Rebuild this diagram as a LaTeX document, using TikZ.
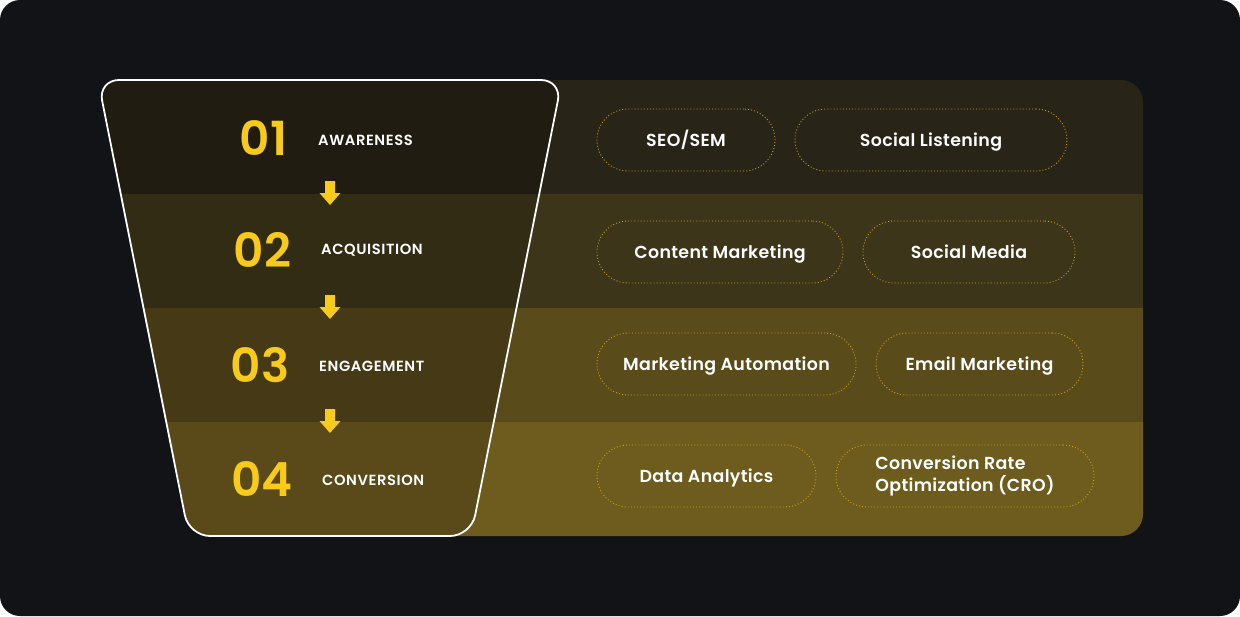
\documentclass[tikz,border=0pt]{standalone}
\usepackage{fontspec}
\setmainfont{Poppins}
\newfontfamily\pmed{Poppins SemiBold}[LetterSpace=2]
\newfontfamily\psemi{Poppins SemiBold}[LetterSpace=4]
\newfontfamily\pnum{Poppins SemiBold}
\definecolor{canvas}{HTML}{121316}
\definecolor{bandA}{HTML}{282418}
\definecolor{bandB}{HTML}{3D3519}
\definecolor{bandC}{HTML}{5A4B1A}
\definecolor{bandD}{HTML}{6D5C1D}
\definecolor{funA}{HTML}{201C12}
\definecolor{funB}{HTML}{332C14}
\definecolor{funC}{HTML}{463A16}
\definecolor{funD}{HTML}{5A4A19}
\definecolor{gold}{HTML}{F8CB1B}
\definecolor{dotgold}{HTML}{CDA51A}
\tikzset{
  stepnum/.style={text=gold, font=\pnum\fontsize{47}{47}\selectfont, inner sep=0pt},
  steplabel/.style={text=white, font=\psemi\fontsize{14.7}{14.7}\selectfont, inner sep=0pt, anchor=west},
  pill/.style={draw=dotgold, line width=0.9pt, dash pattern=on 0.9pt off 2.2pt,
    rounded corners=31pt, minimum height=62pt, inner sep=0pt,
    text=white, font=\pmed\fontsize{17.4}{22}\selectfont},
  oneline/.style={text height=12.2pt, text depth=0pt},
  downarrow/.style={fill=gold}
}
\newcommand{\fatarrow}[2]{%
  \fill[downarrow, shift={(#1,#2)}] (-5,-12) -- (5,-12) -- (5,0) -- (10.5,0) -- (0,12) -- (-10.5,0) -- (-5,0) -- cycle;}
\begin{document}
\begin{tikzpicture}[x=1pt,y=-1pt]
\useasboundingbox (0,0) rectangle (1240,616);
\fill[white] (0,0) rectangle (1240,616);
\fill[canvas, rounded corners=20pt] (0,0) rectangle (1240,616);
% bands
\fill[bandA] (300,80) -- (1121,80) arc[start angle=-90,end angle=0,radius=22] -- (1143,194) -- (300,194) -- cycle;
\fill[bandB] (300,194) rectangle (1143,308);
\fill[bandC] (300,308) rectangle (1143,422);
\fill[bandD] (300,422) -- (1143,422) -- (1143,514) arc[start angle=0,end angle=90,radius=22] -- (300,536) -- cycle;
% funnel
\begin{scope}
\clip[rounded corners=21pt] (98,80) -- (562,80) -- (471,536) -- (189,536) -- cycle;
\fill[funA] (0,80) rectangle (600,194);
\fill[funB] (0,194) rectangle (600,308);
\fill[funC] (0,308) rectangle (600,422);
\fill[funD] (0,422) rectangle (600,536);
\end{scope}
\draw[white, line width=1.8pt, rounded corners=21pt] (98,80) -- (562,80) -- (471,536) -- (189,536) -- cycle;
% steps
\node[stepnum] (n1) at (263.5,138) {01};
\node[stepnum] (n2) at (262.5,249.5) {02};
\node[stepnum] (n3) at (260,365.5) {03};
\node[stepnum] (n4) at (262,479.5) {04};
\node[steplabel] (l1) at (318,140.5) {AWARENESS};
\node[steplabel] (l2) at (321,250) {ACQUISITION};
\node[steplabel] (l3) at (319,366) {ENGAGEMENT};
\node[steplabel] (l4) at (322,480) {CONVERSION};
\fatarrow{330}{193}
\fatarrow{330}{307}
\fatarrow{330}{421}
% pills
\node[pill, oneline, minimum width=178pt] (p11) at (686,140) {SEO/SEM};
\node[pill, oneline, minimum width=272pt] (p12) at (931,140) {Social Listening};
\node[pill, oneline, minimum width=246pt] (p21) at (720,252) {Content Marketing};
\node[pill, oneline, minimum width=212pt] (p22) at (969,252) {Social Media};
\node[pill, oneline, minimum width=259pt] (p31) at (726.5,364) {Marketing Automation};
\node[pill, oneline, minimum width=207pt] (p32) at (979.5,364) {Email Marketing};
\node[pill, oneline, minimum width=219pt] (p41) at (706.5,476) {Data Analytics};
\node[pill, minimum width=258pt, align=left] (p42) at (965,476) {Conversion Rate\\Optimization (CRO)};
\end{tikzpicture}
\end{document}
